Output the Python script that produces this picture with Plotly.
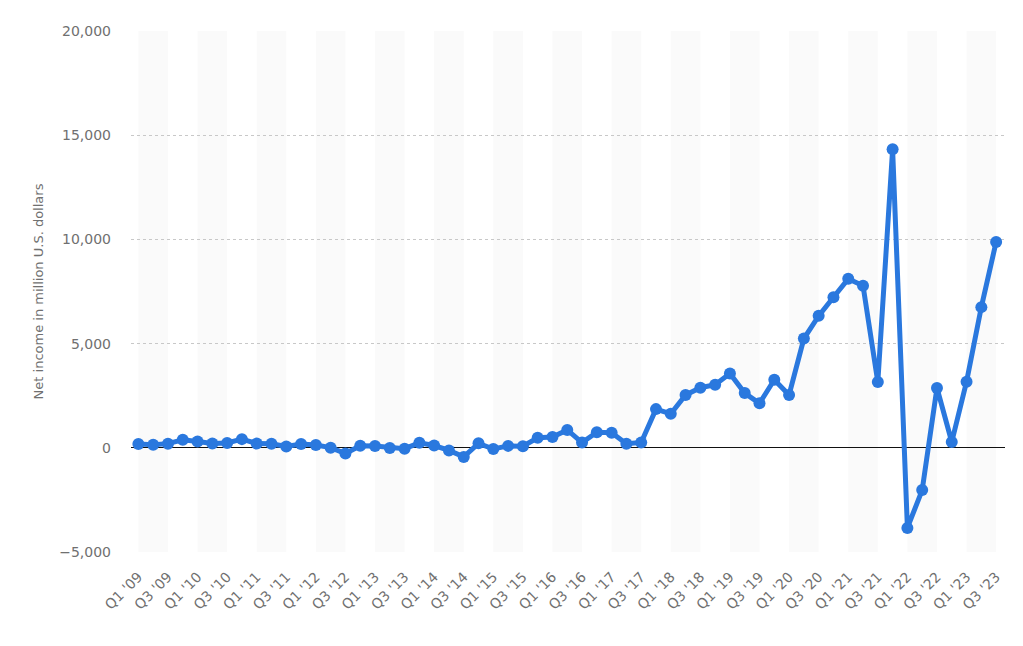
import plotly.graph_objects as go

years = list(range(2009, 2024))
quarters = ["Q1", "Q2", "Q3", "Q4"]
labels = []
for y in years:
    for q in quarters:
        labels.append(f"{q} '{str(y)[2:]}")
labels = labels[:59]

net_income = [
    177, 142, 199, 384,
    299, 207, 231, 416,
    201, 191, 63, 177,
    130, 7, -274, 97,
    82, -7, -41, 239,
    108, -126, -437, 214,
    -57, 92, 79, 482,
    513, 857, 252, 749,
    724, 197, 256, 1856,
    1629, 2534, 2883, 3027,
    3561, 2625, 2134, 3268,
    2535, 5243, 6331, 7222,
    8107, 7778, 3156, 14323,
    -3844, -2028, 2872, 278,
    3172, 6750, 9879,
]

x = list(range(len(labels)))

fig = go.Figure()
fig.add_trace(go.Scatter(
    x=x, y=net_income, mode="lines+markers",
    line=dict(color="#2a78de", width=5),
    marker=dict(color="#2a78de", size=12),
    hoverinfo="skip",
))

shapes = []
for i in range(0, len(labels), 4):
    shapes.append(dict(type="rect", xref="x", yref="paper", x0=i, x1=min(i + 2, len(labels) - 1),
                       y0=0, y1=1, fillcolor="#fafafa", line=dict(width=0), layer="below"))

fig.update_layout(
    width=1007, height=630,
    margin=dict(l=123, r=10, t=23, b=86, autoexpand=False),
    paper_bgcolor="white", plot_bgcolor="white",
    showlegend=False,
    shapes=shapes,
    font=dict(family="DejaVu Sans", color="#707070", size=13),
    xaxis=dict(
        range=[-0.5, 58.6], tickmode="array",
        tickvals=x[::2], ticktext=labels[::2], tickangle=-45,
        showgrid=False, zeroline=False, showline=False, ticks="",
        tickfont=dict(size=14, color="#707070"), automargin=False,
        ticklabelstandoff=13,
    ),
    yaxis=dict(
        range=[-5000, 20000], tickvals=[-5000, 0, 5000, 10000, 15000, 20000],
        tickformat=",", showgrid=True, gridcolor="#c8c8c8", griddash="dot", gridwidth=1,
        zeroline=True, zerolinecolor="#111111", zerolinewidth=1.2,
        ticks="", ticklen=0, tickfont=dict(size=14, color="#707070"), automargin=False,
        ticklabelstandoff=19,
        title=dict(text="Net income in million U.S. dollars", font=dict(size=13, color="#707070"), standoff=12),
    ),
)

fig.write_html("out.html")
